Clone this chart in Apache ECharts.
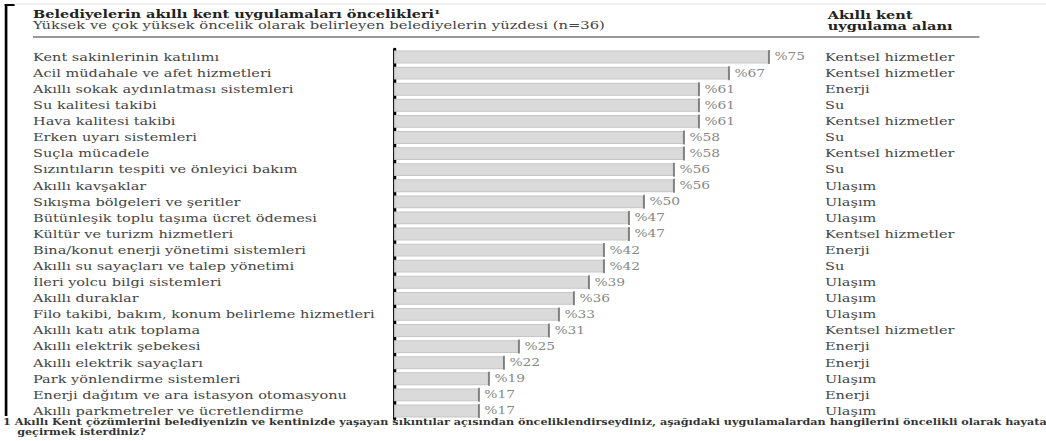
<!DOCTYPE html>
<html>
<head>
<meta charset="utf-8">
<script src="https://cdn.jsdelivr.net/npm/echarts@6/dist/echarts.min.js"></script>
<style>
html,body{margin:0;padding:0;background:#fff;overflow:hidden;}
#wrap{width:1046px;height:441px;overflow:hidden;}
#c{width:793px;height:441px;transform:scaleX(1.32);transform-origin:0 0;}
</style>
</head>
<body>
<div id="wrap"><div id="c"></div></div>
<script>
const categories = [
  "Kent sakinlerinin katılımı",
  "Acil müdahale ve afet hizmetleri",
  "Akıllı sokak aydınlatması sistemleri",
  "Su kalitesi takibi",
  "Hava kalitesi takibi",
  "Erken uyarı sistemleri",
  "Suçla mücadele",
  "Sızıntıların tespiti ve önleyici bakım",
  "Akıllı kavşaklar",
  "Sıkışma bölgeleri ve şeritler",
  "Bütünleşik toplu taşıma ücret ödemesi",
  "Kültür ve turizm hizmetleri",
  "Bina/konut enerji yönetimi sistemleri",
  "Akıllı su sayaçları ve talep yönetimi",
  "İleri yolcu bilgi sistemleri",
  "Akıllı duraklar",
  "Filo takibi, bakım, konum belirleme hizmetleri",
  "Akıllı katı atık toplama",
  "Akıllı elektrik şebekesi",
  "Akıllı elektrik sayaçları",
  "Park yönlendirme sistemleri",
  "Enerji dağıtım ve ara istasyon otomasyonu",
  "Akıllı parkmetreler ve ücretlendirme"
];
const values = [75, 67, 61, 61, 61, 58, 58, 56, 56, 50, 47, 47, 42, 42, 39, 36, 33, 31, 25, 22, 19, 17, 17];
const areas = [
  "Kentsel hizmetler", "Kentsel hizmetler", "Enerji", "Su", "Kentsel hizmetler", "Su",
  "Kentsel hizmetler", "Su", "Ulaşım", "Ulaşım", "Ulaşım", "Kentsel hizmetler",
  "Enerji", "Su", "Ulaşım", "Ulaşım", "Ulaşım", "Kentsel hizmetler",
  "Enerji", "Enerji", "Ulaşım", "Enerji", "Ulaşım"
];
const titleText = "Belediyelerin akıllı kent uygulamaları öncelikleri¹";
const subtitleText = "Yüksek ve çok yüksek öncelik olarak belirleyen belediyelerin yüzdesi (n=36)";
const rightHeader1 = "Akıllı kent";
const rightHeader2 = "uygulama alanı";
const footnote1 = "1 Akıllı Kent çözümlerini belediyenizin ve kentinizde yaşayan sıkıntılar açısından önceliklendirseydiniz, aşağıdaki uygulamalardan hangilerini öncelikli olarak hayata";
const footnote2 = "geçirmek isterdiniz?";

const FONT = "DejaVu Serif";
const chart = echarts.init(document.getElementById('c'), null, {renderer: 'svg'});
chart.setOption({
  animation: false,
  backgroundColor: '#fff',
  grid: {left: 298.5, right: 172.5, top: 49, bottom: 22, containLabel: false},
  xAxis: {type: 'value', min: 0, max: 85, show: false},
  yAxis: [
    {
      type: 'category', data: categories, inverse: true, position: 'left',
      axisLine: {show: true, lineStyle: {color: '#000', width: 2.4}},
      axisTick: {show: false},
      axisLabel: {align: 'left', margin: 273.5, color: '#444', fontFamily: FONT, fontSize: 11}
    },
    {
      type: 'category', data: areas, inverse: true, position: 'right',
      axisLine: {show: false}, axisTick: {show: false},
      axisLabel: {align: 'left', margin: 4.5, color: '#444', fontFamily: FONT, fontSize: 11}
    }
  ],
  series: [
    {
      type: 'bar', data: values, barCategoryGap: '20%',
      itemStyle: {color: '#dadada', borderColor: '#c6c6c6', borderWidth: 1},
      silent: true
    },
    {
      type: 'scatter', data: values.map((v, i) => [v, i]),
      symbol: 'rect', symbolSize: [1.1, 14],
      itemStyle: {color: '#444'},
      label: {show: true, position: 'right', distance: 3.5, formatter: p => '%' + p.value[0],
        color: '#666', fontFamily: FONT, fontSize: 10.5}
    }
  ],
  graphic: [
    {type: 'rect', shape: {x: 3.6, y: 4, width: 2, height: 412}, style: {fill: '#000'}},
    {type: 'rect', shape: {x: 3.6, y: 4, width: 7.5, height: 2}, style: {fill: '#000'}},
    {type: 'line', shape: {x1: 11, y1: 4, x2: 793, y2: 4}, style: {stroke: '#e4e4e4', lineWidth: 1}},
    {type: 'text', left: 25, top: 9, style: {text: titleText, font: 'bold 11px "DejaVu Serif"', fill: '#222'}},
    {type: 'text', left: 25, top: 20, style: {text: subtitleText, font: '11.2px "DejaVu Serif"', fill: '#444'}},
    {type: 'text', left: 627, top: 10, style: {text: rightHeader1, font: 'bold 11px "DejaVu Serif"', fill: '#222'}},
    {type: 'text', left: 627, top: 21, style: {text: rightHeader2, font: 'bold 11px "DejaVu Serif"', fill: '#222'}},
    {type: 'line', shape: {x1: 25, y1: 37, x2: 742, y2: 37}, style: {stroke: '#999', lineWidth: 2}},
    {type: 'text', left: 2.3, top: 418, style: {text: footnote1, font: 'bold 8.5px "DejaVu Serif"', fill: '#333'}},
    {type: 'text', left: 13, top: 428, style: {text: footnote2, font: 'bold 8.5px "DejaVu Serif"', fill: '#333'}}
  ]
});
</script>
</body>
</html>
